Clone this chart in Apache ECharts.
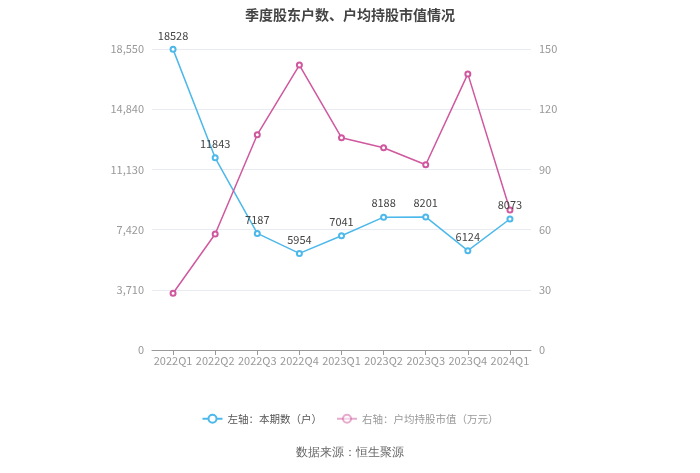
<!DOCTYPE html>
<html><head><meta charset="utf-8">
<script src="https://cdn.jsdelivr.net/npm/echarts@6/dist/echarts.min.js"></script>
<style>html,body{margin:0;padding:0;background:#fff}#c{width:700px;height:473px}</style>
</head><body><div id="c"></div>
<script>
var categories = ['2022Q1','2022Q2','2022Q3','2022Q4','2023Q1','2023Q2','2023Q3','2023Q4','2024Q1'];
var holders = [18528, 11843, 7187, 5954, 7041, 8188, 8201, 6124, 8073];
var avgValue = [28.3, 57.8, 107.3, 142, 105.8, 100.8, 92.3, 137.6, 69.8];
var leftTicks = [0, 3710, 7420, 11130, 14840, 18550];
var rightTicks = [0, 30, 60, 90, 120, 150];
var seriesNames = ['左轴：本期数（户）', '右轴：户均持股市值（万元）'];

var chart = echarts.init(document.getElementById('c'));
var font = '"Noto Sans CJK SC", "Noto Sans", sans-serif';
chart.setOption({
  animation: false,
  textStyle: {fontFamily: font},
  title: {text: '季度股东户数、户均持股市值情况', left: 'center', top: 3,
    textStyle: {fontSize: 14, fontWeight: 'bold', color: '#444', fontFamily: font}},
  legend: {bottom: 44, left: 'center', itemWidth: 20, itemHeight: 10, itemGap: 14,
    data: [
      {name: seriesNames[0], textStyle: {color: '#555'}},
      {name: seriesNames[1], textStyle: {color: '#999'}, itemStyle: {opacity: 0.5}, lineStyle: {opacity: 0.5}}
    ],
    textStyle: {fontSize: 10.5, color: '#555'}},
  graphic: [{type: 'text', left: 'center', top: 447,
    style: {text: '数据来源：恒生聚源', fontSize: 12, fill: '#666', font: '12px ' + font}}],
  grid: {left: 152, width: 379, top: 49, height: 301},
  xAxis: {type: 'category', data: categories, boundaryGap: true,
    axisLine: {lineStyle: {color: '#999'}}, axisTick: {show: true, alignWithLabel: true, interval: 0, lineStyle: {color: '#999'}},
    axisLabel: {color: '#999', fontSize: 11, margin: 5, interval: 0}},
  yAxis: [
    {type: 'value', min: 0, max: leftTicks[leftTicks.length-1], interval: 3710,
     axisLine: {show: false}, axisTick: {show: false},
     axisLabel: {color: '#999', fontSize: 11, formatter: function(v){return v.toLocaleString('en-US');}},
     splitLine: {lineStyle: {color: '#e8ecf2'}}},
    {type: 'value', min: 0, max: rightTicks[rightTicks.length-1], interval: 30,
     axisLine: {show: false}, axisTick: {show: false},
     axisLabel: {color: '#999', fontSize: 11}, splitLine: {show: false}}
  ],
  series: [
    {name: seriesNames[0], type: 'line', yAxisIndex: 0, data: holders,
     symbol: 'emptyCircle', symbolSize: 5, itemStyle: {color: '#4db8ea', borderWidth: 1.5},
     lineStyle: {color: '#4db8ea', width: 1.5},
     label: {show: true, position: 'top', color: '#444', fontSize: 11, distance: 5}},
    {name: seriesNames[1], type: 'line', yAxisIndex: 1, data: avgValue,
     symbol: 'emptyCircle', symbolSize: 5, itemStyle: {color: '#d0589e', borderWidth: 1.5},
     lineStyle: {color: '#d0589e', width: 1.5}}
  ]
});
</script></body></html>
